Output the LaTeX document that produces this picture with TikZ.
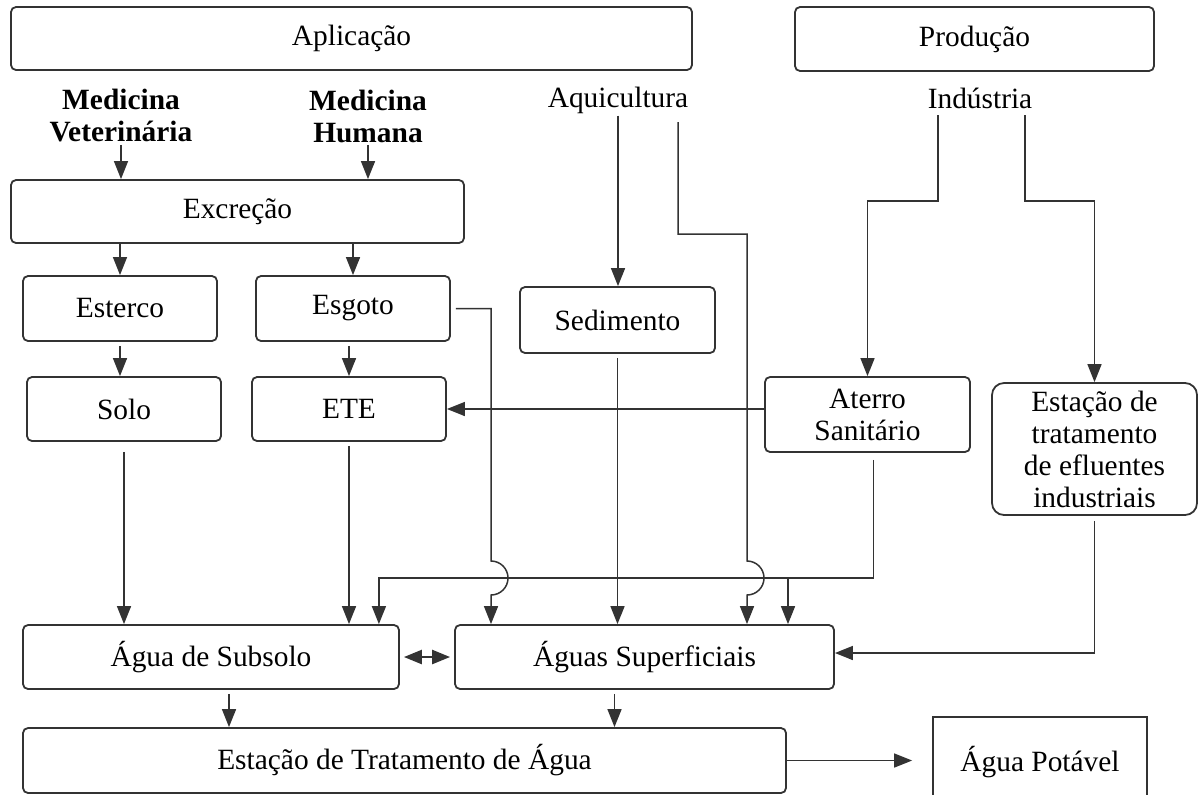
\documentclass[tikz,border=0pt]{standalone}
\usepackage{fontspec}
\setmainfont{Liberation Serif}
\usetikzlibrary{arrows.meta}
\tikzset{
  box/.style = {draw=black!80, line width=0.9pt, rounded corners=2.5pt, inner sep=0pt, align=center},
  lbl/.style = {inner sep=1pt, align=center},
  conn/.style = {draw=black!80, line width=0.75pt},
  arr/.style = {conn, -{Triangle[length=9pt,width=7pt]}},
}
\begin{document}
\begin{tikzpicture}[x = 0.5pt, y = -0.5pt, font = \fontsize{14.7}{16}\selectfont]
	\useasboundingbox (0,0) rectangle (1202,794);
	\node (aplic) at (351.5,38.5) [box, minimum width=340.5pt, minimum height=31.5pt] {Aplicação};
	\node (prod) at (974.5,39) [box, minimum width=179.5pt, minimum height=32pt] {Produção};
	\node (medvet) at (121,116) [lbl, font=\fontsize{14.7}{16}\selectfont\bfseries] {Medicina\\Veterinária};
	\node (medhum) at (368,116) [lbl, font=\fontsize{14.7}{16}\selectfont\bfseries] {Medicina\\Humana};
	\node (aqui) at (618,100) [lbl] {Aquicultura};
	\node (indus) at (980,98) [lbl] {Indústria};
	\node (excr) at (237.5,211.5) [box, minimum width=226.5pt, minimum height=31.5pt] {Excreção};
	\node (esterco) at (120,308.5) [box, minimum width=97pt, minimum height=32.5pt] {Esterco};
	\node (esgoto) at (353,308.5) [box, minimum width=97pt, minimum height=32.5pt] {Esgoto};
	\node (sedim) at (617.5,320) [box, minimum width=97.5pt, minimum height=33pt] {Sedimento};
	\node (solo) at (124,409) [box, minimum width=97pt, minimum height=32pt] {Solo};
	\node (ete) at (349,409) [box, minimum width=97pt, minimum height=32pt] {ETE};
	\node (aterro) at (867.5,414.5) [box, minimum width=102.5pt, minimum height=37.5pt] {Aterro\\Sanitário};
	\node (efl) at (1094.5,449) [box, rounded corners=6pt, minimum width=102.5pt, minimum height=66pt] {Estação de\\tratamento\\de efluentes\\industriais};
	\node (subsolo) at (211,657) [box, minimum width=188pt, minimum height=32pt] {Água de Subsolo};
	\node (superf) at (644.5,657) [box, minimum width=189.5pt, minimum height=32pt] {Águas Superficiais};
	\node (eta) at (404.5,760.5) [box, minimum width=381.5pt, minimum height=32.5pt] {Estação de Tratamento de Água};
	\node (potavel) at (1040,762) [box, rounded corners=0pt, minimum width=107pt, minimum height=45pt] {Água Potável};
	\coordinate (aq1) at (678,122);
	\coordinate (aq3) at (747,234);
	\coordinate (indL) at (938,115);
	\coordinate (indR) at (1025,115);
	\coordinate (bend) at (0,201);
	\coordinate (hop) at (0,578);
	\coordinate (hopA) at (491,561);
	\coordinate (hopB) at (747,561);
	\coordinate (br) at (788,578);
	\draw[arr] (medvet.south) -- (medvet.south |- excr.north);
	\draw[arr] (medhum.south) -- (medhum.south |- excr.north);
	\draw[arr] (excr.south -| esterco) -- (esterco.north);
	\draw[arr] (excr.south -| esgoto) -- (esgoto.north);
	\draw[arr] ([yshift=-2pt]esterco.south) -- (esterco.south |- solo.north);
	\draw[arr] ([yshift=-2pt]esgoto.south -| ete) -- (ete.north);
	\draw[arr] (aqui.south) -- (aqui.south |- sedim.north);
	\draw[arr] (aq1) |- (aq3) -- (hopB) arc[start angle=90, end angle=-90, radius=8.5pt] -- (hopB |- superf.north);
	\draw[arr] ([xshift=2.5pt]esgoto.east) -| (hopA) arc[start angle=90, end angle=-90, radius=8.5pt] -- (hopA |- superf.north);
	\draw[arr] ([yshift=-2pt]sedim.south) -- (sedim.south |- superf.north);
	\draw[arr] ([yshift=-5pt]solo.south) -- (solo.south |- subsolo.north);
	\draw[arr] ([yshift=-2pt]ete.south) -- (ete.south |- subsolo.north);
	\draw[arr] (indL) -- (indL |- bend) -| (aterro.north);
	\draw[arr] (indR) -- (indR |- bend) -| (efl.north);
	\draw[arr] (aterro.west |- ete) -- (ete.east);
	\draw[arr] ([xshift=3pt,yshift=-3.5pt]aterro.south) -- ([xshift=3pt]aterro.south |- hop) -| ([xshift=-10.5pt]subsolo.north east);
	\draw[arr] (br) -- (br |- superf.north);
	\draw[arr] ([yshift=-2.5pt]efl.south) |- ([yshift=2pt]superf.east);
	\draw[conn, line width=1.2pt, {Triangle[length=9pt,width=7pt]}-{Triangle[length=9pt,width=7pt]}] ([xshift=2pt]subsolo.east) -- ([xshift=-2pt]superf.west);
	\draw[arr] ([xshift=9pt,yshift=-2pt]subsolo.south) -- ([xshift=9pt]subsolo.south |- eta.north);
	\draw[arr] ([xshift=-15pt,yshift=-2pt]superf.south) -- ([xshift=-15pt]superf.south |- eta.north);
	\draw[arr, shorten >=10pt] (eta.east) -- (eta.east -| potavel.west);
\end{tikzpicture}
\end{document}
